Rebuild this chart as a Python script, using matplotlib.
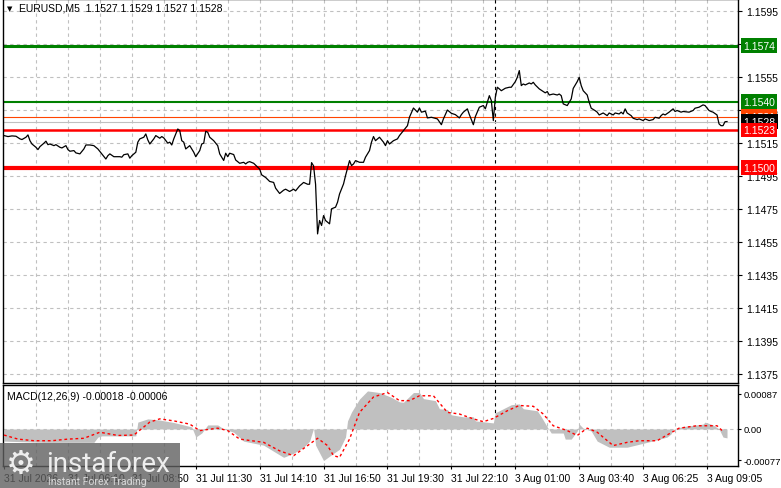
import matplotlib.pyplot as plt
from matplotlib.patches import Rectangle
from matplotlib.transforms import blended_transform_factory

# EURUSD M5 close prices (bar index, price)
bar_idx = [0, 2, 4, 6, 8, 9, 11, 12, 13, 14, 16, 17, 18, 20, 21, 22, 23, 25, 26, 28,
           29, 31, 32, 33, 35, 36, 38, 40, 41, 43, 45, 47, 49, 51, 52, 53, 55, 58, 59, 60,
           62, 63, 64, 66, 67, 68, 70, 71, 72, 73, 75, 76, 78, 79, 80, 82, 83, 84, 85, 87,
           88, 89, 90, 91, 92, 93, 95, 96, 98, 99, 100, 101, 102, 103, 105, 107, 108, 110, 111, 112,
           113, 115, 116, 118, 120, 121, 122, 123, 125, 128, 129, 131, 133, 135, 136, 138, 140, 141, 143, 145,
           146, 148, 149, 150, 152, 153, 154, 155, 156, 157, 158, 159, 160, 161, 162, 163, 164, 166, 167, 168,
           170, 171, 173, 174, 175, 176, 178, 180, 181, 183, 184, 185, 186, 188, 190, 191, 192, 193, 195, 197,
           198, 200, 202, 203, 205, 207, 208, 209, 211, 212, 214, 217, 219, 220, 222, 224, 226, 228, 229, 230,
           232, 233, 235, 236, 238, 240, 241, 243, 244, 245, 246, 247, 248, 249, 251, 253, 254, 256, 257, 258,
           259, 260, 261, 263, 264, 265, 266, 268, 270, 271, 272, 273, 275, 277, 278, 279, 280, 282, 283, 284,
           285, 287, 288, 289, 290, 292, 293, 294, 296, 297, 298, 300, 302, 303, 305, 306, 308, 309, 310, 311,
           312, 314, 315, 317, 318, 320, 321, 323, 325, 326, 328, 329, 330, 331, 333, 335, 336, 337, 339, 340,
           343, 345, 346, 348, 350, 351, 353, 354, 355, 357, 358, 359, 360, 361, 362]
close = [1.15195, 1.15189, 1.15193, 1.15191, 1.15175, 1.15171, 1.15185, 1.15199, 1.15164, 1.15144,
         1.15124, 1.15110, 1.15128, 1.15149, 1.15161, 1.15140, 1.15144, 1.15134, 1.15140, 1.15124,
         1.15120, 1.15134, 1.15110, 1.15100, 1.15104, 1.15090, 1.15084, 1.15114, 1.15138, 1.15138,
         1.15134, 1.15114, 1.15084, 1.15053, 1.15073, 1.15084, 1.15067, 1.15067, 1.15064, 1.15079,
         1.15084, 1.15058, 1.15073, 1.15094, 1.15155, 1.15175, 1.15185, 1.15205, 1.15169, 1.15144,
         1.15175, 1.15195, 1.15179, 1.15189, 1.15181, 1.15149, 1.15155, 1.15138, 1.15175, 1.15235,
         1.15225, 1.15164, 1.15155, 1.15114, 1.15124, 1.15134, 1.15094, 1.15067, 1.15104, 1.15144,
         1.15149, 1.15221, 1.15215, 1.15185, 1.15164, 1.15134, 1.15084, 1.15044, 1.15088, 1.15067,
         1.15088, 1.15080, 1.15047, 1.15027, 1.15033, 1.15023, 1.15033, 1.15037, 1.15027, 1.14992,
         1.14957, 1.14941, 1.14917, 1.14911, 1.14876, 1.14844, 1.14864, 1.14870, 1.14856, 1.14870,
         1.14860, 1.14890, 1.14900, 1.14911, 1.14900, 1.14900, 1.15031, 1.15011, 1.14900, 1.14599,
         1.14680, 1.14650, 1.14710, 1.14680, 1.14670, 1.14660, 1.14751, 1.14761, 1.14791, 1.14841,
         1.14902, 1.14952, 1.15043, 1.15013, 1.15023, 1.15043, 1.15033, 1.15033, 1.15064, 1.15104,
         1.15155, 1.15189, 1.15164, 1.15185, 1.15155, 1.15134, 1.15164, 1.15144, 1.15164, 1.15175,
         1.15195, 1.15225, 1.15255, 1.15306, 1.15362, 1.15337, 1.15362, 1.15337, 1.15343, 1.15302,
         1.15306, 1.15296, 1.15261, 1.15296, 1.15350, 1.15330, 1.15322, 1.15302, 1.15322, 1.15337,
         1.15357, 1.15322, 1.15261, 1.15310, 1.15367, 1.15377, 1.15357, 1.15437, 1.15407, 1.15286,
         1.15427, 1.15488, 1.15478, 1.15467, 1.15482, 1.15488, 1.15488, 1.15522, 1.15548, 1.15589,
         1.15498, 1.15508, 1.15502, 1.15514, 1.15508, 1.15518, 1.15502, 1.15478, 1.15462, 1.15454,
         1.15462, 1.15441, 1.15447, 1.15441, 1.15447, 1.15437, 1.15387, 1.15377, 1.15397, 1.15417,
         1.15481, 1.15522, 1.15548, 1.15498, 1.15467, 1.15441, 1.15397, 1.15361, 1.15346, 1.15337,
         1.15320, 1.15332, 1.15316, 1.15332, 1.15320, 1.15332, 1.15326, 1.15337, 1.15326, 1.15357,
         1.15332, 1.15316, 1.15300, 1.15292, 1.15296, 1.15286, 1.15296, 1.15286, 1.15292, 1.15306,
         1.15300, 1.15316, 1.15326, 1.15320, 1.15337, 1.15357, 1.15341, 1.15347, 1.15337, 1.15341,
         1.15337, 1.15347, 1.15361, 1.15367, 1.15381, 1.15377, 1.15347, 1.15341, 1.15337, 1.15320,
         1.15266, 1.15255, 1.15255, 1.15279, 1.15280]

# MACD(12,26,9) main histogram outline and signal line
macd_idx = [0, 20, 45, 47, 49, 66, 67, 72, 78, 85, 90, 94, 96, 99, 102, 107, 110, 115, 120, 130,
            135, 140, 145, 150, 153, 155, 156, 160, 165, 168, 171, 172, 174, 178, 182, 188, 194, 198, 200, 205,
            208, 210, 216, 218, 222, 224, 230, 235, 236, 245, 246, 250, 254, 258, 260, 267, 269, 272, 274, 280,
            281, 284, 287, 288, 290, 294, 297, 303, 312, 322, 332, 334, 335, 340, 350, 351, 355, 358, 360, 362]
macd = [-0.00030, -0.00033, -0.00033, -0.00020, -0.00017, -0.00017, 0.00017, 0.00025, 0.00022, 0.00016,
        0.00010, 0.00005, -0.00020, -0.00010, 0.00010, 0.00010, 0.00000, -0.00008, -0.00030, -0.00040,
        -0.00055, -0.00070, -0.00060, -0.00045, -0.00030, 0.00002, -0.00040, -0.00078, -0.00060, -0.00050,
        -0.00020, 0.00020, 0.00042, 0.00074, 0.00094, 0.00090, 0.00078, 0.00067, 0.00066, 0.00090,
        0.00090, 0.00075, 0.00070, 0.00050, 0.00048, 0.00035, 0.00030, 0.00030, 0.00020, 0.00015,
        0.00040, 0.00050, 0.00060, 0.00062, 0.00050, 0.00045, 0.00030, 0.00005, -0.00010, -0.00010,
        -0.00025, -0.00025, -0.00005, 0.00012, 0.00002, -0.00005, -0.00030, -0.00045, -0.00045, -0.00033,
        -0.00020, -0.00012, 0.00000, 0.00006, 0.00012, 0.00017, 0.00010, 0.00000, -0.00020, -0.00022]
signal_idx = [0, 7, 15, 24, 32, 40, 48, 57, 65, 73, 78, 85, 93, 98, 107, 112, 118, 130, 138, 145,
              152, 157, 162, 165, 168, 173, 178, 185, 192, 198, 203, 208, 215, 222, 228, 235, 240, 245, 252, 258,
              265, 270, 275, 282, 287, 292, 297, 305, 312, 318, 327, 333, 338, 347, 357, 360]
signal = [-0.00015, -0.00025, -0.00029, -0.00029, -0.00025, -0.00023, -0.00008, -0.00016, -0.00015, 0.00017,
          0.00025, 0.00020, 0.00012, -0.00004, 0.00002, -0.00004, -0.00025, -0.00033, -0.00054, -0.00066,
          -0.00041, -0.00023, -0.00041, -0.00066, -0.00070, -0.00025, 0.00041, 0.00079, 0.00090, 0.00070,
          0.00070, 0.00082, 0.00082, 0.00041, 0.00037, 0.00025, 0.00018, 0.00026, 0.00045, 0.00058,
          0.00056, 0.00037, 0.00008, -0.00004, -0.00016, 0.00002, -0.00008, -0.00041, -0.00033, -0.00029,
          -0.00029, -0.00012, 0.00002, 0.00008, 0.00008, -0.00006]

price_ticks = [1.1595, 1.1575, 1.1555, 1.1535, 1.1515, 1.1495, 1.1475, 1.1455, 1.1435, 1.1415, 1.1395, 1.1375]
# 1.1575 sits under the 1.1574 box in the terminal, so its text is not shown
price_labels = ["1.1595", "", "1.1555", "1.1535", "1.1515", "1.1495", "1.1475", "1.1455",
                "1.1435", "1.1415", "1.1395", "1.1375"]
macd_ticks = [0.00087, 0.0, -0.00077]
macd_labels = ["0.00087", "0.00", "-0.00077"]
time_labels = ["31 Jul 2026", "31 Jul 06:10", "31 Jul 08:50", "31 Jul 11:30", "31 Jul 14:10", "31 Jul 16:50",
               "31 Jul 19:30", "31 Jul 22:10", "3 Aug 01:00", "3 Aug 03:40", "3 Aug 06:25", "3 Aug 09:05"]

# levels: (price, colour, width)
levels = [(1.1574, "#008000", 2.2), (1.1540, "#008000", 1.5), (1.1531, "#ff4500", 0.8),
          (1.1528, "#c0c0c0", 0.8), (1.1523, "#ff0000", 1.8), (1.1500, "#ff0000", 3.0)]
boxes = [(1.1574, "#008000"), (1.1540, "#008000"), (1.1531, "#ff4500"),
         (1.1528, "#000000"), (1.1523, "#ff0000"), (1.1500, "#ff0000")]

plt.rcParams["font.family"] = ["Liberation Sans", "DejaVu Sans"]

W, H = 781, 489
fig = plt.figure(figsize=(W / 100, H / 100), dpi=100)
fig.patch.set_facecolor("white")

ax = fig.add_axes([3 / W, 1 - 384 / H, 735 / W, 384 / H])
axm = fig.add_axes([3 / W, 1 - 467 / H, 735 / W, 81 / H])

xmax = 367.5
grid_kw = dict(color="#c0c0c0", lw=0.8, ls=(0, (3, 3)), zorder=0)
for a in (ax, axm):
    a.set_xlim(-0.5, xmax)
    for k in range(16, 368, 16):
        a.axvline(k, **grid_kw)
    a.axvline(246, color="black", lw=0.8, ls=(0, (3, 3)), zorder=1)
    for s in a.spines.values():
        s.set_color("black")
        s.set_linewidth(1)
    a.yaxis.tick_right()

ax.tick_params(axis="y", labelsize=7.5, length=3, pad=3, colors="black")
axm.tick_params(axis="y", labelsize=6.8, length=2, pad=2, colors="black")

# main price panel
ax.set_ylim(1.13695, 1.16023)
for t in price_ticks:
    ax.axhline(t, **grid_kw)
ax.set_yticks(price_ticks)
ax.set_yticklabels(price_labels)
ax.set_xticks([])
for p, c, w in levels:
    ax.axhline(p, color=c, lw=w, zorder=2)
ax.plot(bar_idx, close, color="black", lw=0.9, zorder=3)

tr = blended_transform_factory(ax.transAxes, ax.transData)
for p, c in boxes:
    ax.text(1.007, p, f"{p:.4f}", transform=tr, fontsize=7.5, color="white", va="center", ha="left",
            clip_on=False, zorder=5,
            bbox=dict(boxstyle="square,pad=0.22", facecolor=c, edgecolor="none"))

ax.text(0.005, 0.985, "\u25bc", transform=ax.transAxes, fontsize=5, va="top", ha="left",
        family="DejaVu Sans")
ax.text(0.022, 0.99, "EURUSD,M5  1.1527 1.1529 1.1527 1.1528", transform=ax.transAxes,
        fontsize=7.5, va="top", ha="left")

# MACD panel
axm.set_ylim(-0.000914, 0.001086)
axm.axhline(0, **grid_kw)
axm.fill_between(macd_idx, 0, macd, color="#c0c0c0", lw=0, zorder=2)
axm.plot(signal_idx, signal, color="red", lw=1, ls=(0, (2, 2)), zorder=3)
axm.set_yticks(macd_ticks)
axm.set_yticklabels(macd_labels)
axm.set_xticks(range(0, 353, 32))
axm.set_xticklabels(time_labels, fontsize=7.5, ha="left")
axm.tick_params(axis="x", length=2, pad=3)
axm.text(0.006, 0.93, "MACD(12,26,9) -0.00018 -0.00006", transform=axm.transAxes,
         fontsize=7.5, va="top", ha="left")

# instaforex watermark
fig.patches.append(Rectangle((0, 0), 180 / W, 45 / H, transform=fig.transFigure,
                             facecolor="#606060", alpha=0.8, edgecolor="none", zorder=10))
fig.text(6 / W, 1 - 464 / H, "\u2699", fontsize=24, color="#eeeeee", va="center", ha="left",
         family="DejaVu Sans", zorder=11)
fig.text(46 / W, 1 - 472 / H, "instaforex", fontsize=20, color="#eeeeee", va="baseline", ha="left",
         family="Roboto", zorder=11)
fig.text(48 / W, 1 - 482 / H, "Instant Forex Trading", fontsize=7.5, color="#d8d8d8",
         va="center", ha="left", family="Roboto", zorder=11)

fig.savefig("out.png", dpi=100)
